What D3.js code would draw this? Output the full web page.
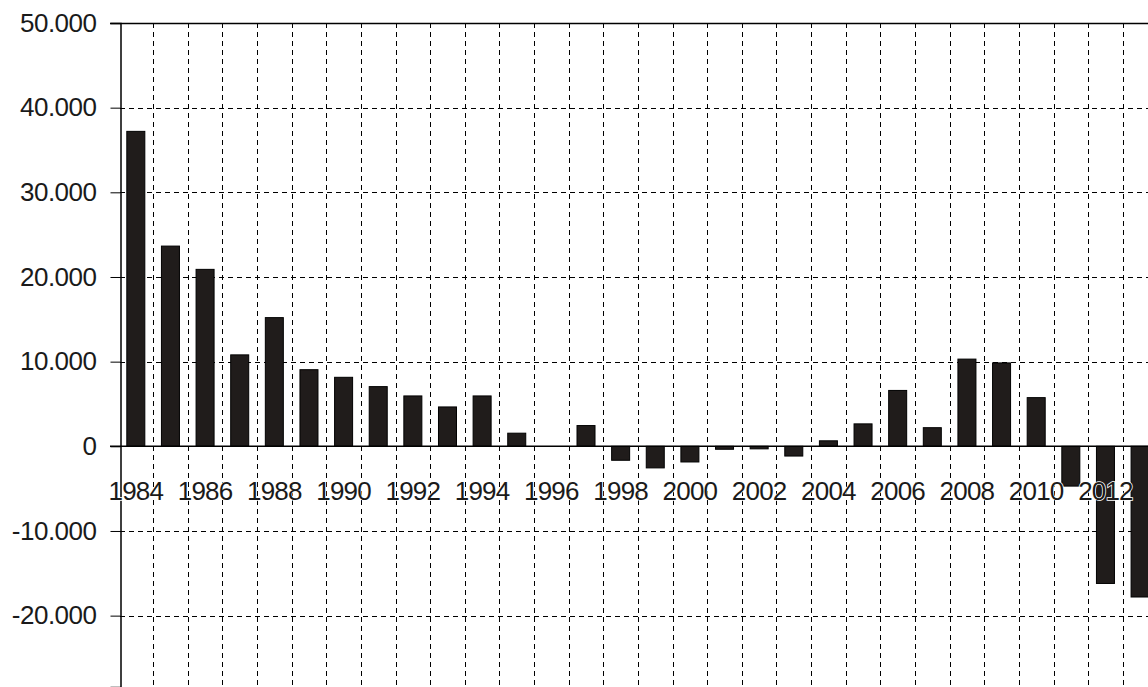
<!DOCTYPE html>
<html><head><meta charset="utf-8">
<script src="https://cdn.jsdelivr.net/npm/d3@7"></script>
<style>body{margin:0;background:#fff}svg{display:block}</style>
</head><body>
<svg id="c" width="1148" height="687"></svg>
<script>
const years = d3.range(1984, 2014).map(String);
const values = [37200, 23650, 20900, 10800, 15200, 9050, 8150, 7050, 5950, 4650,
  5950, 1550, 0, 2450, -1650, -2550, -1850, -350, -300, -1150,
  650, 2650, 6600, 2200, 10300, 9850, 5750, -4700, -16200, -17800];
const yTicks = [50000, 40000, 30000, 20000, 10000, 0, -10000, -20000];
const xLabels = years.filter((d, i) => i % 2 === 0);

const svg = d3.select("#c");
const W = 1148, H = 687;
const x = d3.scaleBand().domain(years).range([118.5, 118.5 + 30 * 34.63]).paddingInner(0.48).paddingOuter(0.24);
const y = d3.scaleLinear().domain([-28430, 50000]).range([687, 23]);
const fmt = v => v === 0 ? "0" : (v < 0 ? "-" : "") + d3.format(",")(Math.abs(v)).replace(/,/g, ".");

// horizontal dashed grid
svg.append("g").selectAll("line").data(yTicks.filter(v => v !== 0 && v !== 50000)).join("line")
  .attr("x1", 120).attr("x2", W).attr("y1", d => Math.round(y(d)) + 0.5).attr("y2", d => Math.round(y(d)) + 0.5)
  .attr("stroke", "#000").attr("stroke-width", 1).attr("stroke-dasharray", "5,4").attr("shape-rendering", "crispEdges");
// vertical dashed grid at category boundaries
const bounds = years.slice(1).map(d => x(d) - x.step() * x.paddingInner() / 2);
svg.append("g").selectAll("line").data(bounds).join("line")
  .attr("x1", d => Math.round(d) + 0.5).attr("x2", d => Math.round(d) + 0.5).attr("y1", 23).attr("y2", H)
  .attr("stroke", "#000").attr("stroke-width", 1).attr("stroke-dasharray", "5,4").attr("shape-rendering", "crispEdges");

// bars
svg.append("g").selectAll("rect").data(values).join("rect")
  .attr("x", (d, i) => x(years[i]))
  .attr("width", x.bandwidth())
  .attr("y", d => y(Math.max(0, d)))
  .attr("height", d => Math.abs(y(d) - y(0)))
  .attr("fill", "#201c1b").attr("stroke", "#000").attr("stroke-width", 1);

// top border and zero line
svg.append("line").attr("x1", 110).attr("x2", W).attr("y1", Math.round(y(50000)) + 0.5).attr("y2", Math.round(y(50000)) + 0.5).attr("stroke", "#000").attr("stroke-width", 1.5);
svg.append("line").attr("x1", 110).attr("x2", W).attr("y1", y(0)).attr("y2", y(0)).attr("stroke", "#000").attr("stroke-width", 1.5);

// y axis
const yAxis = d3.axisLeft(y).tickValues(yTicks).tickSize(10).tickFormat(fmt);
const ga = svg.append("g").attr("transform", "translate(120.5,0)").call(yAxis);
ga.select(".domain").attr("stroke", "#000").attr("stroke-width", 1.5);
ga.selectAll(".tick line").attr("stroke", "#000");
ga.selectAll(".tick text").attr("x", -24).attr("font-family", "Liberation Sans, Arial, sans-serif")
  .attr("font-size", 26).attr("fill", "#1a1a1a").attr("letter-spacing", -0.5);

// x labels
svg.append("g").selectAll("text").data(xLabels).join("text")
  .attr("x", d => x(d) + x.bandwidth() / 2).attr("y", 500)
  .attr("text-anchor", "middle")
  .attr("font-family", "Liberation Sans, Arial, sans-serif").attr("font-size", 26)
  .attr("letter-spacing", -0.8)
  .attr("fill", "#1a1a1a").attr("stroke", "#fff").attr("stroke-width", 1.5).attr("paint-order", "stroke")
  .text(d => d);
</script>
</body></html>
